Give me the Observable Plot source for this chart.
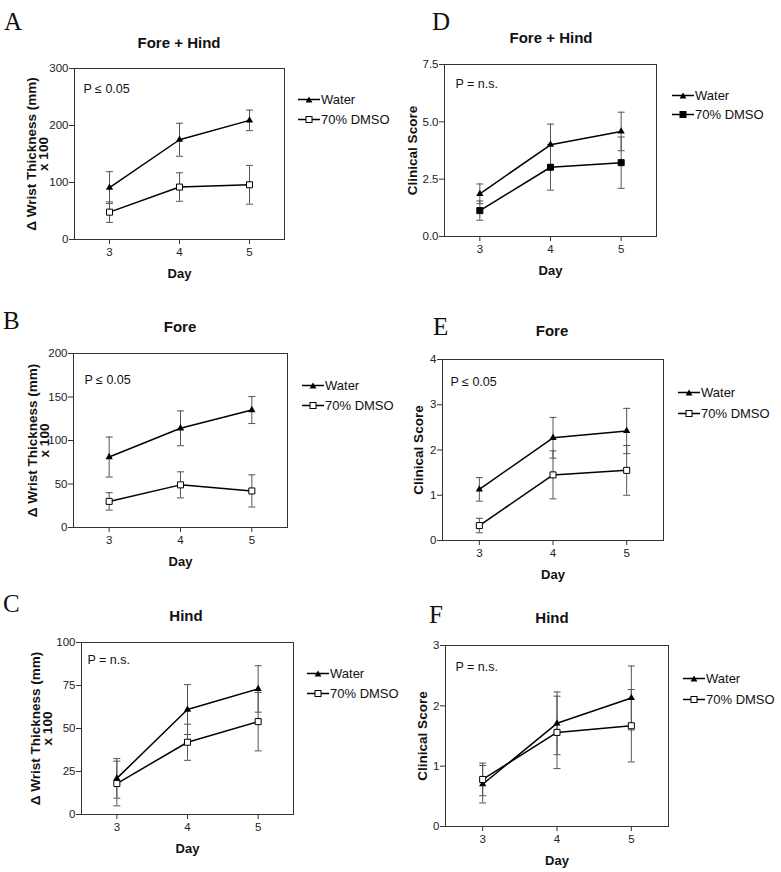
<!DOCTYPE html>
<html>
<head>
<meta charset="utf-8">
<script src="https://cdn.jsdelivr.net/npm/d3@7"></script>
<script src="https://cdn.jsdelivr.net/npm/@observablehq/plot@0.6"></script>
<style>
  html, body { margin: 0; padding: 0; background: #fff; }
  #fig { position: relative; width: 781px; height: 872px; background: #fff; overflow: hidden;
         font-family: 'Liberation Sans', Arial, sans-serif; color: #111; }
  .abs { position: absolute; }
  .letter { font-family: 'Liberation Serif', 'Times New Roman', serif; font-size: 25px; line-height: 1; transform: translateY(-50%); }
  .title { font-weight: bold; font-size: 15px; line-height: 1; transform: translate(-50%, -50%); white-space: nowrap; }
  .leg { font-size: 13px; line-height: 1; white-space: nowrap; display: flex; align-items: center; transform: translateY(-50%); }
  .leg svg { display: block; }
</style>
</head>
<body>
<div id="fig"></div>
<script>
// ---------------- data ----------------
const days = [3, 4, 5];
const seriesNames = ["Water", "70% DMSO"];

// A: Fore + Hind, wrist thickness
const aWaterMean = [91, 175, 209];
const aWaterErr  = [28, 29, 18];
const aDmsoMean  = [48, 92, 96];
const aDmsoErr   = [18, 25, 34];
// B: Fore, wrist thickness
const bWaterMean = [81, 114, 135];
const bWaterErr  = [23, 20, 15.5];
const bDmsoMean  = [30, 49, 42];
const bDmsoErr   = [10, 15, 18.5];
// C: Hind, wrist thickness
const cWaterMean = [21, 61, 73];
const cWaterErr  = [11.5, 14.5, 13.5];
const cDmsoMean  = [18, 42, 54];
const cDmsoErr   = [13, 10.5, 17];
// D: Fore + Hind, clinical score
const dWaterMean = [1.86, 4.0, 4.58];
const dWaterErr  = [0.43, 0.9, 0.84];
const dDmsoMean  = [1.13, 3.02, 3.22];
const dDmsoErr   = [0.42, 1.0, 1.12];
// E: Fore, clinical score
const eWaterMean = [1.13, 2.27, 2.42];
const eWaterErr  = [0.26, 0.45, 0.5];
const eDmsoMean  = [0.33, 1.45, 1.55];
const eDmsoErr   = [0.16, 0.53, 0.55];
// F: Hind, clinical score
const fWaterMean = [0.70, 1.71, 2.13];
const fWaterErr  = [0.31, 0.52, 0.53];
const fDmsoMean  = [0.78, 1.56, 1.67];
const fDmsoErr   = [0.27, 0.6, 0.6];

// tick labels
const aTicks = [0, 100, 200, 300];
const bTicks = [0, 50, 100, 150, 200];
const cTicks = [0, 25, 50, 75, 100];
const dTicks = [0, 2.5, 5, 7.5];
const eTicks = [0, 1, 2, 3, 4];
const fTicks = [0, 1, 2, 3];

const wristLabel = "\u0394 Wrist Thickness (mm)\nx 100";
const scoreLabel = "Clinical Score";

// ---------------- layout ----------------
const panels = [
  {letter: "A", lx: 4, ly: 21, title: "Fore + Hind", tx: 179, ty: 42, frame: [74, 284, 68, 239], col: 0,
   ticks: aTicks, fmt: d => String(d), ylabel: wristLabel, ylx: -36, p: "P \u2264 0.05", pdx: 9, pdy: 20,
   leg: [298, 99, 119], filled: false, w: aWaterMean, we: aWaterErr, m: aDmsoMean, me: aDmsoErr},
  {letter: "B", lx: 3, ly: 320, title: "Fore", tx: 180, ty: 326, frame: [73, 287, 353, 527], col: 0,
   ticks: bTicks, fmt: d => String(d), ylabel: wristLabel, ylx: -34, p: "P \u2264 0.05", pdx: 11, pdy: 26,
   leg: [302, 385, 405], filled: false, w: bWaterMean, we: bWaterErr, m: bDmsoMean, me: bDmsoErr},
  {letter: "C", lx: 3, ly: 603, title: "Hind", tx: 186, ty: 615, frame: [81, 293, 642, 814], col: 0,
   ticks: cTicks, fmt: d => String(d), ylabel: wristLabel, ylx: -39, p: "P = n.s.", pdx: 6, pdy: 17,
   leg: [307, 673, 693], filled: false, w: cWaterMean, we: cWaterErr, m: cDmsoMean, me: cDmsoErr},
  {letter: "D", lx: 432, ly: 21, title: "Fore + Hind", tx: 551, ty: 37, frame: [444, 656, 64, 236], col: 1,
   ticks: dTicks, fmt: d => d.toFixed(1), ylabel: scoreLabel, ylx: -31, p: "P = n.s.", pdx: 11, pdy: 19,
   leg: [672, 95, 114], filled: true, w: dWaterMean, we: dWaterErr, m: dDmsoMean, me: dDmsoErr},
  {letter: "E", lx: 433, ly: 326, title: "Fore", tx: 552, ty: 330, frame: [442, 663, 359, 540], col: 1,
   ticks: eTicks, fmt: d => String(d), ylabel: scoreLabel, ylx: -23, p: "P \u2264 0.05", pdx: 8, pdy: 22,
   leg: [678, 392, 413], filled: false, w: eWaterMean, we: eWaterErr, m: eDmsoMean, me: eDmsoErr},
  {letter: "F", lx: 429, ly: 614, title: "Hind", tx: 552, ty: 617, frame: [445, 668, 645, 826], col: 1,
   ticks: fTicks, fmt: d => String(d), ylabel: scoreLabel, ylx: -22, p: "P = n.s.", pdx: 10, pdy: 21,
   leg: [683, 678, 699], filled: false, w: fWaterMean, we: fWaterErr, m: fDmsoMean, me: fDmsoErr}
];

// horizontal cap symbol for error bars
const capSymbol = {
  draw(context, size) {
    const w = Math.sqrt(size / Math.PI);
    context.moveTo(-w, 0);
    context.lineTo(w, 0);
  }
};

const fig = document.getElementById("fig");
const FONT = "'Liberation Sans', Arial, sans-serif";

function addDiv(cls, x, y, html) {
  const d = document.createElement("div");
  d.className = "abs " + cls;
  d.style.left = x + "px";
  d.style.top = y + "px";
  d.innerHTML = html;
  fig.appendChild(d);
  return d;
}

function legendSymbol(kind, filled) {
  const ns = "http://www.w3.org/2000/svg";
  let marker;
  if (kind === "tri") {
    marker = `<path d="M11,1 L14.4,7 L7.6,7 Z" fill="#000"/>`;
  } else {
    marker = `<rect x="8" y="1" width="6" height="6" fill="${filled ? "#000" : "#fff"}" stroke="#000" stroke-width="1"/>`;
  }
  return `<svg xmlns="${ns}" width="23" height="8" viewBox="0 0 23 8"><line x1="0" y1="4" x2="22" y2="4" stroke="#000" stroke-width="1.4"/>${marker}</svg>`;
}

for (const P of panels) {
  const [fl, fr, ft, fb] = P.frame;
  const svgLeft = P.col === 0 ? 0 : 390;
  const svgW = P.col === 0 ? 390 : 391;
  const svgTop = ft - 10;
  const marginTop = 10, marginBottom = 50;
  const height = (fb - ft) + marginTop + marginBottom;

  const rows = [];
  days.forEach((d, i) => {
    rows.push({day: d, series: seriesNames[0], mean: P.w[i], lo: P.w[i] - P.we[i], hi: P.w[i] + P.we[i]});
    rows.push({day: d, series: seriesNames[1], mean: P.m[i], lo: P.m[i] - P.me[i], hi: P.m[i] + P.me[i]});
  });
  const water = rows.filter(r => r.series === seriesNames[0]);
  const dmso = rows.filter(r => r.series === seriesNames[1]);
  const ymax = P.ticks[P.ticks.length - 1];

  const chart = Plot.plot({
    width: svgW,
    height,
    marginLeft: fl - svgLeft,
    marginRight: svgLeft + svgW - fr,
    marginTop,
    marginBottom,
    style: {fontFamily: FONT, fontSize: "11.5px", color: "#222", background: "transparent", overflow: "visible"},
    x: {domain: [2.5, 5.5]},
    y: {domain: [0, ymax]},
    marks: [
      Plot.frame({stroke: "#333", strokeWidth: 1}),
      Plot.axisX({ticks: days, tickFormat: d => String(d), tickSize: 5, tickPadding: 3, label: null,
                  fontSize: 11.5, stroke: "#333", fill: "#222"}),
      Plot.axisY({ticks: P.ticks, tickFormat: P.fmt, tickSize: 5, tickPadding: 1, label: null,
                  fontSize: 11.5, stroke: "#333", fill: "#222"}),
      Plot.ruleX(rows, {x: "day", y1: "lo", y2: "hi", stroke: "#555", strokeWidth: 1}),
      Plot.dot(rows, {x: "day", y: "lo", symbol: capSymbol, r: 3.5, fill: "none", stroke: "#555", strokeWidth: 1}),
      Plot.dot(rows, {x: "day", y: "hi", symbol: capSymbol, r: 3.5, fill: "none", stroke: "#555", strokeWidth: 1}),
      Plot.line(rows, {x: "day", y: "mean", z: "series", stroke: "#000", strokeWidth: 1.5}),
      Plot.dot(water, {x: "day", y: "mean", symbol: "triangle", r: 2.7, fill: "#000", stroke: "none"}),
      Plot.dot(dmso, {x: "day", y: "mean", symbol: "square", r: 3.4, fill: P.filled ? "#000" : "#fff", stroke: "#000", strokeWidth: 1}),
      Plot.text([P.ylabel], {frameAnchor: "left", dx: P.ylx, rotate: -90, textAnchor: "middle", lineAnchor: "middle",
                             lineHeight: 0.9, fontWeight: "bold", fontSize: 13.5, fill: "#111"}),
      Plot.text([P.p], {frameAnchor: "top-left", dx: P.pdx, dy: P.pdy, textAnchor: "start", lineAnchor: "middle",
                        fontSize: 12.5, fill: "#111"}),
      Plot.text(["Day"], {frameAnchor: "bottom", dy: 34, lineAnchor: "middle", fontWeight: "bold", fontSize: 13, fill: "#111"})
    ]
  });
  chart.style.position = "absolute";
  chart.style.left = svgLeft + "px";
  chart.style.top = svgTop + "px";
  fig.appendChild(chart);

  addDiv("letter", P.lx, P.ly, P.letter);
  addDiv("title", P.tx, P.ty, P.title);
  const [lx, yW, yD] = P.leg;
  addDiv("leg", lx, yW, legendSymbol("tri", false) + `<span>${seriesNames[0]}</span>`);
  addDiv("leg", lx, yD, legendSymbol("sq", P.filled) + `<span>${seriesNames[1]}</span>`);
}
</script>
</body>
</html>
